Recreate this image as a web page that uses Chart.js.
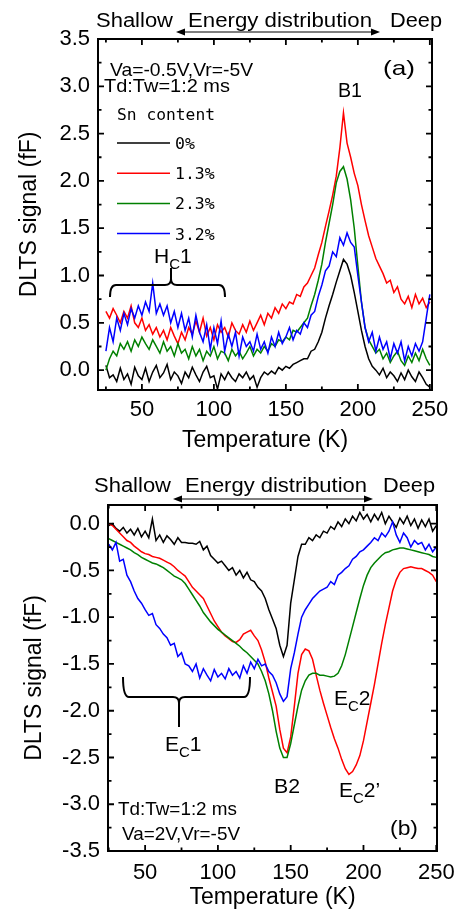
<!DOCTYPE html>
<html><head><meta charset="utf-8">
<script src="https://cdn.jsdelivr.net/npm/chart.js@4.4.1/dist/chart.umd.min.js"></script>
<style>html,body{margin:0;padding:0;background:#fff;}canvas{position:absolute;left:0;}#ca{top:0}#cb{top:460px}</style>
</head><body>
<canvas id="ca" width="456" height="460"></canvas>
<canvas id="cb" width="456" height="454"></canvas>
<script>
// ---------------- DATA ----------------
const temperatureK = [
 25,27.5,30,32.5,35,37.5,40,42.5,45,47.5,
 50,52.5,55,57.5,60,62.5,65,67.5,70,72.5,
 75,77.5,80,82.5,85,87.5,90,92.5,95,97.5,
 100,102.5,105,107.5,110,112.5,115,117.5,120,122.5,
 125,127.5,130,132.5,135,137.5,140,142.5,145,147.5,
 150,152.5,155,157.5,160,162.5,165,167.5,170,172.5,
 175,177.5,180,182.5,185,187.5,190,192.5,195,197.5,
 200,202.5,205,207.5,210,212.5,215,217.5,220,222.5,
 225,227.5,230,232.5,235,237.5,240,242.5,245,247.5,
 250];
const seriesLabels = ['0%','1.3%','2.3%','3.2%'];

// Panel (a): Va=-0.5V, Vr=-5V
const a_Sn0 = [
 0.05,-0.08,-0.05,-0.12,0.02,-0.10,-0.04,-0.15,0.03,-0.06,
 -0.10,0.02,-0.12,-0.02,0.05,-0.08,-0.03,0.06,-0.10,-0.02,
 -0.06,-0.14,-0.02,-0.08,0.03,-0.05,-0.12,-0.02,0.04,-0.08,
 -0.06,-0.20,-0.04,-0.10,-0.02,-0.08,-0.12,-0.04,-0.08,-0.02,
 -0.10,-0.06,-0.18,-0.08,-0.02,-0.05,-0.01,-0.04,0.03,0.00,
 0.04,0.02,0.06,0.08,0.10,0.12,0.12,0.20,0.22,0.30,
 0.40,0.55,0.68,0.80,0.93,1.05,1.17,1.12,1.00,0.82,
 0.62,0.42,0.25,0.12,0.04,0.00,-0.05,0.02,-0.08,-0.02,
 -0.06,-0.12,-0.03,-0.10,0.00,-0.07,-0.12,-0.02,-0.08,-0.15,
 -0.18];
const a_Sn13 = [
 0.62,0.55,0.65,0.58,0.50,0.62,0.55,0.68,0.50,0.45,
 0.55,0.42,0.48,0.38,0.45,0.35,0.42,0.32,0.45,0.36,
 0.28,0.40,0.32,0.45,0.38,0.52,0.40,0.55,0.36,0.45,
 0.32,0.48,0.40,0.45,0.35,0.50,0.42,0.38,0.48,0.40,
 0.52,0.42,0.50,0.58,0.48,0.60,0.55,0.66,0.60,0.70,
 0.65,0.72,0.70,0.80,0.78,0.88,0.92,1.00,1.08,1.22,
 1.35,1.52,1.68,1.85,2.05,2.35,2.72,2.40,2.25,2.08,
 1.95,1.75,1.58,1.42,1.30,1.18,1.10,1.02,0.92,0.95,
 0.82,0.88,0.75,0.70,0.78,0.66,0.80,0.70,0.76,0.66,
 0.72];
const a_Sn23 = [
 0.00,0.12,0.20,0.15,0.28,0.22,0.30,0.20,0.32,0.25,
 0.35,0.28,0.22,0.32,0.25,0.18,0.30,0.20,0.25,0.15,
 0.28,0.18,0.22,0.12,0.25,0.15,0.22,0.10,0.20,0.15,
 0.25,0.12,0.20,0.18,0.10,0.22,0.15,0.20,0.12,0.18,
 0.25,0.15,0.22,0.18,0.25,0.20,0.28,0.25,0.32,0.30,
 0.35,0.32,0.42,0.40,0.45,0.50,0.55,0.68,0.80,0.95,
 1.12,1.35,1.55,1.75,1.98,2.10,2.15,2.02,1.80,1.50,
 1.10,0.72,0.45,0.32,0.25,0.18,0.22,0.12,0.18,0.08,
 0.15,0.20,0.10,0.05,0.15,0.08,0.18,0.10,0.22,0.12,
 0.05];
const a_Sn32 = [
 0.20,0.45,0.30,0.55,0.42,0.60,0.48,0.65,0.55,0.68,
 0.58,0.72,0.62,0.92,0.60,0.70,0.58,0.68,0.50,0.62,
 0.45,0.60,0.42,0.55,0.35,0.58,0.40,0.30,0.48,0.22,
 0.45,0.28,0.52,0.20,0.38,0.25,0.40,0.15,0.35,0.25,
 0.30,0.20,0.38,0.22,0.30,0.18,0.35,0.25,0.40,0.28,
 0.35,0.45,0.32,0.42,0.38,0.50,0.45,0.58,0.62,0.78,
 0.90,1.05,1.10,1.25,1.20,1.40,1.32,1.45,1.35,1.30,
 1.00,0.72,0.45,0.30,0.40,0.20,0.35,0.22,0.30,0.12,
 0.28,0.18,0.30,0.10,0.25,0.15,0.28,0.20,0.30,0.55,
 0.80];

// Panel (b): Va=2V, Vr=-5V
const b_Sn0 = [
 -0.02,0.00,-0.05,-0.08,-0.04,-0.10,-0.06,-0.12,-0.05,-0.14,
 -0.08,-0.15,0.05,-0.18,-0.12,-0.20,-0.13,-0.17,-0.22,-0.15,
 -0.20,-0.20,-0.21,-0.21,-0.22,-0.19,-0.28,-0.24,-0.34,-0.38,
 -0.42,-0.40,-0.45,-0.50,-0.47,-0.55,-0.50,-0.58,-0.52,-0.60,
 -0.62,-0.68,-0.72,-0.80,-0.92,-1.02,-1.12,-1.30,-1.42,-1.30,
 -0.85,-0.60,-0.35,-0.22,-0.22,-0.15,-0.18,-0.12,-0.15,-0.08,
 -0.10,-0.03,-0.06,0.02,-0.03,0.05,0.00,0.08,0.03,0.12,
 0.05,0.10,0.02,0.10,0.04,0.12,0.00,0.08,0.02,-0.04,
 0.06,0.00,0.08,-0.02,0.05,-0.05,0.04,-0.03,0.05,-0.08,
 -0.02];
const b_Sn13 = [
 0.00,-0.02,-0.06,-0.10,-0.14,-0.18,-0.20,-0.24,-0.27,-0.30,
 -0.32,-0.33,-0.35,-0.36,-0.37,-0.39,-0.41,-0.43,-0.46,-0.50,
 -0.53,-0.56,-0.62,-0.68,-0.72,-0.76,-0.80,-0.88,-0.96,-1.04,
 -1.10,-1.16,-1.20,-1.23,-1.26,-1.27,-1.24,-1.18,-1.16,-1.14,
 -1.20,-1.25,-1.35,-1.48,-1.65,-1.80,-1.95,-2.20,-2.40,-2.45,
 -2.28,-1.95,-1.60,-1.40,-1.34,-1.36,-1.45,-1.62,-1.78,-1.92,
 -2.05,-2.18,-2.30,-2.40,-2.52,-2.62,-2.68,-2.65,-2.58,-2.48,
 -2.32,-2.12,-1.92,-1.72,-1.50,-1.28,-1.08,-0.90,-0.72,-0.60,
 -0.52,-0.48,-0.47,-0.46,-0.47,-0.48,-0.48,-0.50,-0.52,-0.55,
 -0.62];
const b_Sn23 = [
 -0.16,-0.18,-0.20,-0.22,-0.24,-0.26,-0.28,-0.31,-0.33,-0.36,
 -0.38,-0.40,-0.42,-0.43,-0.45,-0.47,-0.50,-0.53,-0.56,-0.58,
 -0.60,-0.64,-0.70,-0.76,-0.82,-0.88,-0.95,-1.00,-1.05,-1.09,
 -1.13,-1.16,-1.19,-1.22,-1.25,-1.28,-1.31,-1.35,-1.38,-1.42,
 -1.46,-1.50,-1.58,-1.68,-1.82,-2.00,-2.22,-2.40,-2.50,-2.50,
 -2.35,-2.15,-1.95,-1.78,-1.68,-1.62,-1.60,-1.60,-1.62,-1.62,
 -1.63,-1.64,-1.63,-1.60,-1.52,-1.40,-1.25,-1.10,-0.95,-0.80,
 -0.66,-0.55,-0.47,-0.42,-0.38,-0.34,-0.31,-0.30,-0.28,-0.27,
 -0.26,-0.26,-0.27,-0.28,-0.29,-0.30,-0.31,-0.32,-0.33,-0.35,
 -0.36];
const b_Sn32 = [
 -0.22,-0.28,-0.20,-0.40,-0.38,-0.55,-0.62,-0.72,-0.80,-0.85,
 -0.92,-0.98,-0.96,-1.08,-1.12,-1.18,-1.22,-1.30,-1.28,-1.42,
 -1.38,-1.50,-1.52,-1.58,-1.50,-1.65,-1.55,-1.62,-1.68,-1.56,
 -1.64,-1.60,-1.66,-1.55,-1.62,-1.58,-1.65,-1.52,-1.60,-1.48,
 -1.55,-1.45,-1.52,-1.50,-1.58,-1.62,-1.70,-1.82,-1.90,-1.85,
 -1.55,-1.38,-1.18,-1.00,-0.92,-0.86,-0.80,-0.76,-0.72,-0.70,
 -0.68,-0.62,-0.65,-0.55,-0.52,-0.48,-0.45,-0.38,-0.35,-0.30,
 -0.28,-0.24,-0.20,-0.15,-0.18,-0.10,-0.14,-0.08,0.02,-0.12,
 -0.20,-0.10,-0.15,-0.25,-0.18,-0.22,-0.20,-0.28,-0.22,-0.30,
 -0.25];

const xTickLabels = [50,100,150,200,250];
const yTickLabelsA = [0.0,0.5,1.0,1.5,2.0,2.5,3.0,3.5];
const yTickLabelsB = [-3.5,-3.0,-2.5,-2.0,-1.5,-1.0,-0.5,0.0];

// ---------------- STYLE / DRAWING ----------------
const lineColors = ['#000000','#ff0000','#008000','#0000ff'];
const FONT = "'Liberation Sans', Arial, sans-serif";
const MONO = "'DejaVu Sans Mono', monospace";

function txt(ctx, s, x, y, size, width, family) {
  ctx.save();
  ctx.font = size + 'px ' + (family || FONT);
  ctx.textAlign = 'left'; ctx.textBaseline = 'alphabetic'; ctx.fillStyle = '#000';
  const w = ctx.measureText(s).width;
  ctx.translate(x, y);
  if (width) ctx.scale(width / w, 1);
  ctx.fillText(s, 0, 0);
  ctx.restore();
}
function subLabel(ctx, main, sub, tail, x, y, size, subSize, drop) {
  ctx.save(); ctx.fillStyle = '#000'; ctx.textBaseline = 'alphabetic'; ctx.textAlign = 'left';
  ctx.font = size + 'px ' + FONT; ctx.fillText(main, x, y);
  let cx = x + ctx.measureText(main).width;
  ctx.font = subSize + 'px ' + FONT; ctx.fillText(sub, cx, y + drop);
  cx += ctx.measureText(sub).width;
  ctx.font = size + 'px ' + FONT; ctx.fillText(tail, cx, y);
  ctx.restore();
}
function dblArrow(ctx, x1, x2, y) {
  ctx.save(); ctx.strokeStyle = '#000'; ctx.fillStyle = '#000'; ctx.lineWidth = 1;
  ctx.beginPath(); ctx.moveTo(x1 + 5, y); ctx.lineTo(x2 - 5, y); ctx.stroke();
  ctx.beginPath(); ctx.moveTo(x1, y); ctx.lineTo(x1 + 9, y - 3.5); ctx.lineTo(x1 + 9, y + 3.5); ctx.closePath(); ctx.fill();
  ctx.beginPath(); ctx.moveTo(x2, y); ctx.lineTo(x2 - 9, y - 3.5); ctx.lineTo(x2 - 9, y + 3.5); ctx.closePath(); ctx.fill();
  ctx.restore();
}
function brace(ctx, x1, x2, xm, yEnd, yLine, yTip) {
  const r = 6;
  const s = Math.sign(yTip - yLine);
  ctx.save(); ctx.strokeStyle = '#000'; ctx.lineWidth = 2; ctx.lineJoin = 'round';
  ctx.beginPath();
  ctx.moveTo(x1, yEnd);
  ctx.quadraticCurveTo(x1, yLine, x1 + r, yLine);
  ctx.lineTo(xm - r, yLine);
  ctx.quadraticCurveTo(xm, yLine, xm, yLine + s * r);
  ctx.lineTo(xm, yTip);
  ctx.moveTo(xm, yLine + s * r);
  ctx.quadraticCurveTo(xm, yLine, xm + r, yLine);
  ctx.lineTo(x2 - r, yLine);
  ctx.quadraticCurveTo(x2, yLine, x2, yEnd);
  ctx.stroke();
  ctx.restore();
}
function minorTicks(major, min, max) {
  const step = major[1] - major[0];
  const c = [major[0] - step / 2];
  for (let i = 0; i < major.length - 1; i++) c.push((major[i] + major[i + 1]) / 2);
  c.push(major[major.length - 1] + step / 2);
  return c.filter(v => v >= min && v <= max);
}
const frameTicks = {
  id: 'frameTicks',
  afterDraw(chart) {
    const {ctx, chartArea: a} = chart;
    const xs = chart.scales.x, ys = chart.scales.y;
    const xMaj = xs.ticks.map(t => t.value), yMaj = ys.ticks.map(t => t.value);
    ctx.save();
    ctx.strokeStyle = '#000'; ctx.lineWidth = 1.8;
    ctx.beginPath();
    const doX = (vals, len) => vals.forEach(v => {
      const p = xs.getPixelForValue(v);
      ctx.moveTo(p, a.bottom); ctx.lineTo(p, a.bottom - len);
      ctx.moveTo(p, a.top); ctx.lineTo(p, a.top + len);
    });
    const doY = (vals, len) => vals.forEach(v => {
      const p = ys.getPixelForValue(v);
      ctx.moveTo(a.left, p); ctx.lineTo(a.left + len, p);
      ctx.moveTo(a.right, p); ctx.lineTo(a.right - len, p);
    });
    doX(xMaj, 6); doX(minorTicks(xMaj, xs.min, xs.max), 3.5);
    doY(yMaj, 6); doY(minorTicks(yMaj, ys.min, ys.max), 3.5);
    ctx.stroke();
    ctx.lineWidth = 2;
    ctx.strokeRect(a.left, a.top, a.right - a.left, a.bottom - a.top);
    ctx.restore();
  }
};

function annotateA(ctx) {
  txt(ctx, 'Shallow', 96, 27, 19.5, 77);
  txt(ctx, 'Energy distribution', 188, 27, 19.5, 184);
  txt(ctx, 'Deep', 390, 27, 19.5, 52);
  dblArrow(ctx, 176, 380, 32);
  txt(ctx, 'Va=-0.5V,Vr=-5V', 110, 76, 19, 143);
  txt(ctx, 'Td:Tw=1:2 ms', 104, 92, 19, 126);
  txt(ctx, '(a)', 383, 75, 21, 32);
  txt(ctx, 'B1', 338, 97, 20, 24);
  txt(ctx, 'Sn content', 117, 120, 16.5, 98, MONO);
  seriesLabels.forEach((lab, i) => {
    const y = 143 + 30.2 * i;
    ctx.save(); ctx.strokeStyle = lineColors[i]; ctx.lineWidth = 1.5;
    ctx.beginPath(); ctx.moveTo(117, y); ctx.lineTo(170, y); ctx.stroke(); ctx.restore();
    txt(ctx, lab, 175, y + 6, 16.5, null, MONO);
  });
  subLabel(ctx, 'H', 'C', '1', 154, 263, 21, 15, 6);
  brace(ctx, 110, 225, 171, 297, 285, 268);
}
function annotateB(ctx) {
  txt(ctx, 'Shallow', 94, 32, 19.5, 77);
  txt(ctx, 'Energy distribution', 185, 32, 19.5, 182);
  txt(ctx, 'Deep', 383, 32, 19.5, 52);
  dblArrow(ctx, 173, 373, 39);
  brace(ctx, 123, 250, 179, 217, 237, 267);
  subLabel(ctx, 'E', 'C', '1', 165, 291, 21, 15, 6);
  subLabel(ctx, 'E', 'C', '2', 334, 245, 21, 15, 6);
  txt(ctx, 'B2', 274, 333, 21, 26);
  subLabel(ctx, 'E', 'C', '2\u2019', 339, 337, 21, 15, 6);
  txt(ctx, 'Td:Tw=1:2 ms', 118, 355, 19, 119);
  txt(ctx, 'Va=2V,Vr=-5V', 122, 380, 19, 118);
  txt(ctx, '(b)', 390, 375, 21, 28);
}

function makeChart(id, cfg) {
  const datasets = cfg.series.map((vals, i) => ({
    label: seriesLabels[i],
    data: temperatureK.map((t, j) => ({x: t, y: vals[j]})),
    borderColor: lineColors[i],
    backgroundColor: lineColors[i],
    borderWidth: 1.5,
    pointRadius: 0,
    tension: 0,
    fill: false,
    order: 3 - i
  }));
  return new Chart(document.getElementById(id), {
    type: 'line',
    data: {datasets},
    options: {
      responsive: false, animation: false, devicePixelRatio: 1,
      layout: {padding: cfg.pad},
      plugins: {legend: {display: false}, tooltip: {enabled: false}},
      scales: {
        x: {
          type: 'linear', min: cfg.xMin, max: cfg.xMax,
          afterBuildTicks: s => { s.ticks = xTickLabels.map(v => ({value: v})); },
          ticks: {color: '#000', font: {family: FONT, size: 22}, padding: cfg.xTickPad,
                  autoSkip: false, maxRotation: 0, minRotation: 0, callback: v => String(v)},
          grid: {display: false, drawTicks: false},
          border: {display: false},
          title: {display: true, text: 'Temperature (K)', color: '#000',
                  font: {family: FONT, size: 23}, padding: {top: 0, bottom: cfg.xTitlePad}},
          afterFit: s => { s.height = cfg.xH; s.paddingLeft = 0; s.paddingRight = 0; }
        },
        y: {
          type: 'linear', min: cfg.yMin, max: cfg.yMax,
          afterBuildTicks: s => { s.ticks = cfg.yTicks.map(v => ({value: v})); },
          ticks: {color: '#000', font: {family: FONT, size: 22}, padding: 8, autoSkip: false,
                  callback: v => Number(v).toFixed(1)},
          grid: {display: false, drawTicks: false},
          border: {display: false},
          title: {display: true, text: 'DLTS signal (fF)', color: '#000',
                  font: {family: FONT, size: 23}, padding: {top: cfg.yTitlePad, bottom: 0}},
          afterFit: s => { s.width = cfg.yW; s.paddingTop = 0; s.paddingBottom = 0; }
        }
      }
    },
    plugins: [frameTicks, {id: 'annot', afterDraw: c => cfg.annotate(c.ctx)}]
  });
}

makeChart('ca', {
  series: [a_Sn0, a_Sn13, a_Sn23, a_Sn32],
  xMin: 19.5, xMax: 251.5, yMin: -0.21, yMax: 3.5, yTicks: yTickLabelsA,
  pad: {top: 39, right: 24, left: 0, bottom: 0},
  xH: 70, yW: 98, xTickPad: 7, xTitlePad: 6, yTitlePad: 16,
  annotate: annotateA
});
makeChart('cb', {
  series: [b_Sn0, b_Sn13, b_Sn23, b_Sn32],
  xMin: 24.5, xMax: 250.5, yMin: -3.5, yMax: 0.2, yTicks: yTickLabelsB,
  pad: {top: 45, right: 19, left: 0, bottom: 0},
  xH: 63, yW: 108, xTickPad: 9, xTitlePad: 3, yTitlePad: 21,
  annotate: annotateB
});
</script>
</body></html>
